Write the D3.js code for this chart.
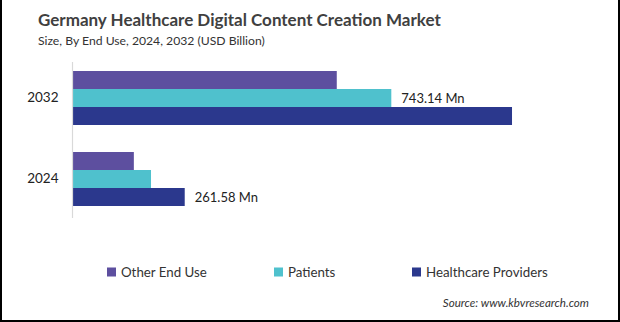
<!DOCTYPE html>
<html>
<head>
<meta charset="utf-8">
<script src="https://cdn.jsdelivr.net/npm/d3@7"></script>
<style>
  html, body { margin: 0; padding: 0; background: #fff; }
  svg { display: block; }
  text { font-family: Lato, "Open Sans", sans-serif; }
</style>
</head>
<body>
<svg id="chart" width="620" height="322"></svg>
<script>
// End-use segments and years (USD Mn)
const years = ["2032", "2024"];
const segments = ["Other End Use", "Patients", "Healthcare Providers"];
const otherEndUse = [616, 143];
const patients = [743.14, 183];
const healthcareProviders = [1024.5, 261.58];
const colors = ["#5d4f9f", "#4fc1cd", "#2b388d"];
// Value labels shown beside bars: [year index, segment index, text]
const valueLabels = [
  [0, 1, "743.14 Mn"],
  [1, 2, "261.58 Mn"]
];

const series = [otherEndUse, patients, healthcareProviders];

const svg = d3.select("#chart");
const W = 620, H = 322;

// frame on left, right and bottom edges
svg.append("path")
  .attr("d", `M1,0 V${H - 1} H${W - 1} V0`)
  .attr("fill", "none")
  .attr("stroke", "#000")
  .attr("stroke-width", 2);

svg.append("text")
  .attr("x", 38).attr("y", 26)
  .attr("font-size", 17).attr("font-weight", 700)
  .attr("fill", "#404040")
  .text("Germany Healthcare Digital Content Creation Market");

svg.append("text")
  .attr("x", 38).attr("y", 45)
  .attr("font-size", 12.2)
  .attr("fill", "#333")
  .text("Size, By End Use, 2024, 2032 (USD Billion)");

const x0 = 72.5;
const x = d3.scaleLinear().domain([0, 1000]).range([x0, x0 + 429]);

const y = d3.scaleBand().domain(years).range([30.5, 246.5]).paddingInner(1 / 3).paddingOuter(0.5);
const ySub = d3.scaleBand().domain(d3.range(segments.length)).range([0, y.bandwidth()]);

// category axis
const yAxis = d3.axisLeft(y).tickSize(0).tickPadding(14);
const gy = svg.append("g").attr("transform", `translate(${x0},0)`).call(yAxis);
gy.select(".domain").remove();
gy.selectAll("text").attr("font-size", 13.5).attr("fill", "#222")
  .style("font-family", "Lato, sans-serif");

// bars
years.forEach((yr, i) => {
  const g = svg.append("g").attr("transform", `translate(0,${y(yr)})`);
  g.selectAll("rect")
    .data(series.map((s, k) => ({ k, v: s[i] })))
    .join("rect")
    .attr("x", x(0))
    .attr("y", d => ySub(d.k))
    .attr("width", d => x(d.v) - x(0))
    .attr("height", ySub.bandwidth())
    .attr("fill", d => colors[d.k]);
});

// axis line
svg.append("line")
  .attr("x1", x0).attr("x2", x0)
  .attr("y1", 62).attr("y2", 218)
  .attr("stroke", "#d9d9d9").attr("stroke-width", 1.2);

// value labels
valueLabels.forEach(([i, k, t]) => {
  svg.append("text")
    .attr("x", x(series[k][i]) + 10)
    .attr("y", y(years[i]) + ySub(k) + ySub.bandwidth() / 2)
    .attr("dy", "0.35em")
    .attr("font-size", 13)
    .attr("fill", "#222")
    .text(t);
});

// legend
const legendX = [107, 274, 412];
segments.forEach((s, k) => {
  svg.append("rect")
    .attr("x", legendX[k]).attr("y", 267.5)
    .attr("width", 9).attr("height", 9)
    .attr("fill", colors[k]);
  svg.append("text")
    .attr("x", legendX[k] + 14).attr("y", 272)
    .attr("dy", "0.35em")
    .attr("font-size", 13.3)
    .attr("fill", "#333")
    .text(s);
});

svg.append("text")
  .attr("x", 589).attr("y", 303)
  .attr("dy", "0.35em")
  .attr("text-anchor", "end")
  .attr("font-size", 11.6)
  .attr("font-style", "italic")
  .attr("fill", "#333")
  .text("Source: www.kbvresearch.com");
</script>
</body>
</html>
